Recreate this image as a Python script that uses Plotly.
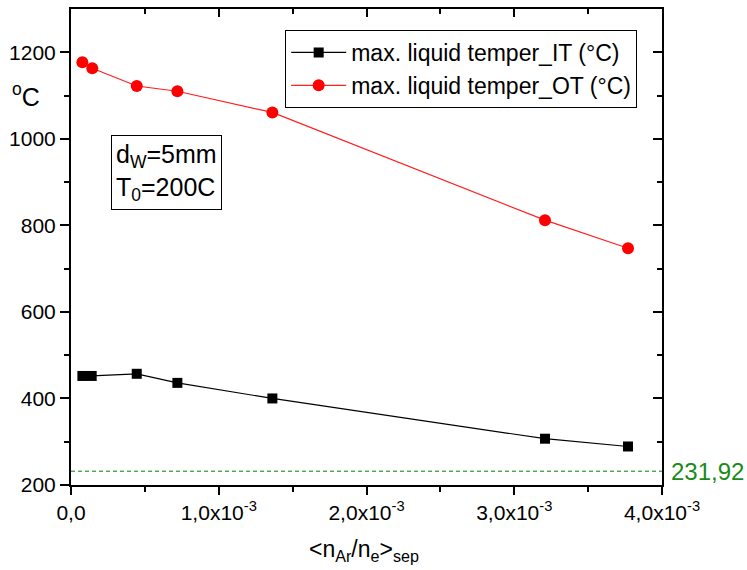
import plotly.graph_objects as go

# Data
x_it = [0.077e-3, 0.140e-3, 0.445e-3, 0.72e-3, 1.363e-3, 3.208e-3, 3.77e-3]
y_it = [452, 452, 457, 436, 400, 307, 289]
x_ot = [0.077e-3, 0.144e-3, 0.445e-3, 0.72e-3, 1.363e-3, 3.208e-3, 3.77e-3]
y_ot = [1177, 1163, 1122, 1110, 1061, 812, 747]
melt_level = 231.92

x_tickvals = [0, 1e-3, 2e-3, 3e-3, 4e-3]
x_ticktext = ["0,0", "1,0x10<sup>-3</sup>", "2,0x10<sup>-3</sup>",
              "3,0x10<sup>-3</sup>", "4,0x10<sup>-3</sup>"]
x_minor = [0.5e-3, 1.5e-3, 2.5e-3, 3.5e-3]
y_tickvals = [200, 400, 600, 800, 1000, 1200]
y_minor = [300, 500, 700, 900, 1100]

FONT = "Liberation Sans, Arial, sans-serif"

fig = go.Figure()
fig.add_trace(go.Scatter(
    x=x_it, y=y_it, mode="lines+markers", name="max. liquid temper_IT (°C)",
    line=dict(color="black", width=1.2),
    marker=dict(symbol="square", size=10, color="black")))
fig.add_trace(go.Scatter(
    x=x_ot, y=y_ot, mode="lines+markers", name="max. liquid temper_OT (°C)",
    line=dict(color="#ff2020", width=1.2),
    marker=dict(symbol="circle", size=12, color="#ff0000")))
# invisible trace for the mirrored axes
fig.add_trace(go.Scatter(x=[None], y=[None], xaxis="x2", yaxis="y2",
                         showlegend=False, hoverinfo="skip"))

xr = [0, 4e-3]
yr = [200, 1300]

fig.update_layout(
    width=747, height=570,
    margin=dict(l=71, r=85, t=9, b=85),
    paper_bgcolor="white", plot_bgcolor="white",
    font=dict(family=FONT, size=21, color="black"),
    showlegend=True,
    legend=dict(x=0.958, y=0.956, xanchor="right", yanchor="top",
                bordercolor="black", borderwidth=1, bgcolor="white",
                font=dict(size=23), tracegroupgap=0, itemwidth=55),
    xaxis=dict(range=xr, showgrid=False, zeroline=False, showline=True,
               linecolor="black", linewidth=2, ticks="outside", ticklen=8,
               tickwidth=2, tickcolor="black", tickmode="array",
               tickvals=x_tickvals, ticktext=x_ticktext,
               tickfont=dict(size=21),
               minor=dict(tickmode="array", tickvals=x_minor, ticks="outside",
                          ticklen=5, tickwidth=2, tickcolor="black", showgrid=False)),
    yaxis=dict(range=yr, showgrid=False, zeroline=False, showline=True,
               linecolor="black", linewidth=2, ticks="outside", ticklen=9,
               tickwidth=2, tickcolor="black", tickmode="array",
               tickvals=y_tickvals, ticktext=[str(v) for v in y_tickvals],
               tickfont=dict(size=21),
               minor=dict(tickmode="array", tickvals=y_minor, ticks="outside",
                          ticklen=5, tickwidth=2, tickcolor="black", showgrid=False)),
    xaxis2=dict(range=xr, overlaying="x", side="top", showgrid=False,
                zeroline=False, showline=True, linecolor="black", linewidth=2,
                ticks="inside", ticklen=8, tickwidth=2, tickcolor="black",
                tickmode="array", tickvals=x_tickvals, showticklabels=False,
                minor=dict(tickmode="array", tickvals=x_minor, ticks="inside",
                           ticklen=5, tickwidth=2, tickcolor="black", showgrid=False)),
    yaxis2=dict(range=yr, overlaying="y", side="right", showgrid=False,
                zeroline=False, showline=True, linecolor="black", linewidth=2,
                ticks="inside", ticklen=9, tickwidth=2, tickcolor="black",
                tickmode="array", tickvals=y_tickvals, showticklabels=False,
                minor=dict(tickmode="array", tickvals=y_minor, ticks="inside",
                           ticklen=5, tickwidth=2, tickcolor="black", showgrid=False)),
)

# dashed melting-point line
fig.add_shape(type="line", xref="paper", yref="y", x0=0, x1=1,
              y0=melt_level, y1=melt_level,
              line=dict(color="green", width=1, dash="4px,3px"))

fig.add_annotation(xref="paper", yref="y", x=1.012, y=melt_level,
                   xanchor="left", yanchor="middle", showarrow=False,
                   text="231,92", font=dict(size=24, color="#1a8a1a"))

fig.add_annotation(xref="paper", yref="paper", x=0.0677, y=0.735,
                   xanchor="left", yanchor="top", showarrow=False, align="left",
                   text="d<sub>W</sub>=5mm<br>T<sub>0</sub>=200C",
                   font=dict(size=25), bordercolor="black", borderwidth=1,
                   borderpad=4, bgcolor="white")

fig.add_annotation(xref="paper", yref="paper", x=-0.076, y=0.819,
                   xanchor="center", yanchor="middle", showarrow=False,
                   text="<sup>o</sup>C", font=dict(size=25))

fig.add_annotation(xref="paper", yref="paper", x=0.495, y=-0.137,
                   xanchor="center", yanchor="middle", showarrow=False,
                   text="&lt;n<sub>Ar</sub>/n<sub>e</sub>&gt;<sub>sep</sub>",
                   font=dict(size=23))

fig.write_html("out.html", config={"displayModeBar": False},
               post_script="document.body.style.margin='0';document.body.style.padding='0';")
